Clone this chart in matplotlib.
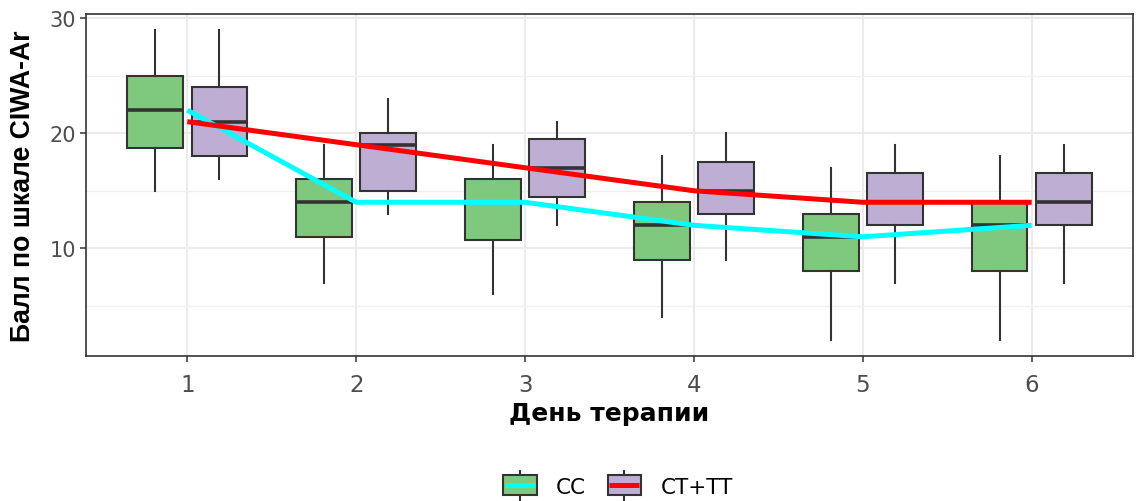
import matplotlib
matplotlib.use("Agg")
import matplotlib.pyplot as plt
from matplotlib.legend_handler import HandlerBase
from matplotlib.patches import Rectangle
from matplotlib.lines import Line2D

plt.rcParams['font.family'] = ['DejaVu Sans']

days = [1, 2, 3, 4, 5, 6]
groups = ["CC", "CT+TT"]

cc_whislo = [15, 7, 6, 4, 2, 2]
cc_q1 = [18.75, 11, 10.75, 9, 8, 8]
cc_med = [22, 14, 14, 12, 11, 12]
cc_q3 = [25, 16, 16, 14, 13, 14]
cc_whishi = [29, 19, 19, 18, 17, 18]

ct_whislo = [16, 13, 12, 9, 7, 7]
ct_q1 = [18, 15, 14.5, 13, 12, 12]
ct_med = [21, 19, 17, 15, 14, 14]
ct_q3 = [24, 20, 19.5, 17.5, 16.5, 16.5]
ct_whishi = [29, 23, 21, 20, 19, 19]

box_colors = ["#7FC97F", "#BEAED4"]
line_colors = ["#00FFFF", "#FF0000"]
edge = "#333333"

fig = plt.figure(figsize=(11.38, 5.02), dpi=100)
ax = fig.add_axes([86/1138, (502-357)/502, (1133-86)/1138, (357-15)/502])

def stats(lo, q1, med, q3, hi):
    return [dict(whislo=a, q1=b, med=c, q3=d, whishi=e, fliers=[])
            for a, b, c, d, e in zip(lo, q1, med, q3, hi)]

offset = 0.19
width = 0.33
for g, (st, col) in enumerate([
        (stats(cc_whislo, cc_q1, cc_med, cc_q3, cc_whishi), box_colors[0]),
        (stats(ct_whislo, ct_q1, ct_med, ct_q3, ct_whishi), box_colors[1])]):
    pos = [d + (-offset if g == 0 else offset) for d in days]
    ax.bxp(st, positions=pos, widths=width, patch_artist=True, showcaps=False,
           boxprops=dict(facecolor=col, edgecolor=edge, linewidth=1.5),
           whiskerprops=dict(color=edge, linewidth=1.5),
           medianprops=dict(color=edge, linewidth=2.6),
           manage_ticks=False, zorder=3)

ax.plot(days, cc_med, color=line_colors[0], linewidth=3.6, zorder=5, solid_capstyle="butt")
ax.plot(days, ct_med, color=line_colors[1], linewidth=3.6, zorder=5, solid_capstyle="butt")

ax.set_xlim(0.4, 6.6)
ax.set_ylim(0.65, 30.35)
ax.set_xticks(days)
ax.set_xticklabels([str(d) for d in days])
ax.set_yticks([10, 20, 30])
ax.set_yticks([5, 15, 25], minor=True)
ax.grid(True, which="major", color="#EBEBEB", linewidth=1.5, zorder=0)
ax.grid(True, which="minor", axis="y", color="#F0F0F0", linewidth=1.0, zorder=0)
ax.set_axisbelow(True)
ax.tick_params(axis="both", which="major", colors="#333333", length=4, width=1.1,
               labelcolor="#4D4D4D", labelsize=15)
ax.tick_params(axis="y", which="minor", length=0)
ax.tick_params(axis="y", pad=3)
ax.tick_params(axis="x", labelsize=16.5, pad=8)
for s in ax.spines.values():
    s.set_color("#333333")
    s.set_linewidth(1.2)

ax.set_xlabel("День терапии", fontsize=18, fontweight="bold", color="black", labelpad=4)
ax.set_ylabel("Балл по шкале CIWA-Ar", fontsize=19.2, fontweight="bold", color="black",
              labelpad=10, family=["Liberation Sans", "DejaVu Sans"])


class BoxHandler(HandlerBase):
    def __init__(self, face, line):
        super().__init__()
        self.face = face
        self.line = line

    def create_artists(self, legend, orig_handle, xdescent, ydescent, width, height, fontsize, trans):
        w, h = width, height
        x0, y0 = -xdescent, -ydescent
        rect = Rectangle((x0, y0), w, h, facecolor=self.face, edgecolor=edge,
                         linewidth=1.5, transform=trans)
        cx = x0 + w / 2
        wt = Line2D([cx, cx], [y0 + h, y0 + 1.25 * h], color=edge, lw=1.5, transform=trans)
        wb = Line2D([cx, cx], [y0 - 0.25 * h, y0], color=edge, lw=1.5, transform=trans)
        med = Line2D([x0 + 0.05 * w, x0 + 0.95 * w], [y0 + 0.5 * h] * 2, color=self.line, lw=3.6,
                     transform=trans, solid_capstyle="butt")
        return [wb, wt, rect, med]


h1 = Rectangle((0, 0), 1, 1)
h2 = Rectangle((0, 0), 1, 1)
fig.legend([h1, h2], groups, loc="center", bbox_to_anchor=(618/1138, 1 - 487/502),
           ncol=2, frameon=False, fontsize=15.5, handlelength=1.55, handleheight=1.0,
           columnspacing=1.0, handletextpad=0.9, borderpad=0.2,
           handler_map={h1: BoxHandler(box_colors[0], line_colors[0]),
                        h2: BoxHandler(box_colors[1], line_colors[1])})

fig.savefig("out.png", dpi=100)
